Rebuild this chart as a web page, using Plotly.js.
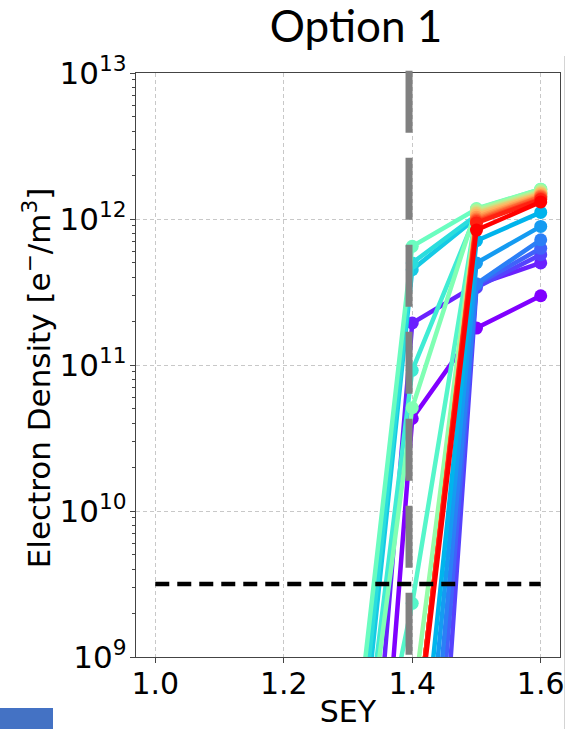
<!DOCTYPE html>
<html>
<head>
<meta charset="utf-8">
<script src="https://cdn.plot.ly/plotly-3.0.1.min.js"></script>
<style>
  html, body { margin: 0; padding: 0; background: #ffffff; }
  #chart { width: 567px; height: 729px; }
</style>
</head>
<body>
<div id="chart"></div>
<script>
// SEY sample points (x)
const sey = [1.3, 1.4, 1.5, 1.6];

// Electron density series (e-/m^3), one per simulation case, in colour order (rainbow map)
const s00 = [1.0e5, 4.3e10, 1.79e11, 2.98e11];
const s01 = [9.3e5, 1.94e11, 3.54e11, 5.0e11];
const s02 = [1.0e3, 1.6e5, 3.4e11, 5.7e11];
const s03 = [1.0e3, 1.3e6, 3.54e11, 6.3e11];
const s04 = [1.0e3, 5.4e6, 3.6e11, 7.2e11];
const s05 = [1.0e3, 1.6e7, 5.0e11, 8.9e11];
const s06 = [1.0e3, 4.0e7, 7.1e11, 1.11e12];
const s07 = [2.8e7, 4.5e11, 1.02e12, 1.42e12];
const s08 = [4.7e7, 5.0e11, 1.06e12, 1.47e12];
const s09 = [2.5e7, 9.2e10, 1.09e12, 1.50e12];
const s10 = [1.6e7, 2.33e9, 1.11e12, 1.52e12];
const s11 = [8.9e7, 6.5e11, 1.17e12, 1.60e12];
const s12 = [2.3e7, 5.1e10, 1.18e12, 1.60e12];
const s13 = [1.0e5, 4.3e8, 1.16e12, 1.58e12];
const s14 = [1.0e5, 1.7e8, 1.15e12, 1.56e12];
const s15 = [1.0e5, 1.7e8, 1.13e12, 1.54e12];
const s16 = [1.0e5, 1.7e8, 1.11e12, 1.52e12];
const s17 = [1.0e5, 1.75e8, 1.09e12, 1.50e12];
const s18 = [1.0e5, 1.75e8, 1.06e12, 1.48e12];
const s19 = [1.0e5, 1.75e8, 1.03e12, 1.45e12];
const s20 = [1.0e5, 1.8e8, 1.00e12, 1.43e12];
const s21 = [1.0e5, 1.8e8, 9.8e11, 1.41e12];
const s22 = [1.0e5, 1.8e8, 9.6e11, 1.38e12];
const s23 = [1.0e5, 1.8e8, 9.4e11, 1.36e12];
const s24 = [1.0e5, 1.6e8, 8.4e11, 1.31e12];

// threshold line and reference SEY
const thresholdX = [1.0, 1.6];
const thresholdY = [3.16e9, 3.16e9];
const seyRef = 1.395;

// tick labels
const yTickVals = [1e9, 1e10, 1e11, 1e12, 1e13];
const yTickText = ['10<sup>9</sup>', '10<sup>10</sup>', '10<sup>11</sup>', '10<sup>12</sup>', '10<sup>13</sup>'];
const xTickVals = [1.0, 1.2, 1.4, 1.6];
const xTickText = ['1.0', '1.2', '1.4', '1.6'];

const series = [s00,s01,s02,s03,s04,s05,s06,s07,s08,s09,s10,s11,s12,s13,s14,s15,s16,s17,s18,s19,s20,s21,s22,s23,s24];

// matplotlib "rainbow" colormap
function rainbow(t) {
  const clip = v => Math.max(0, Math.min(1, v));
  const r = clip(Math.abs(2 * t - 0.5));
  const g = clip(Math.sin(Math.PI * t));
  const b = clip(Math.cos(Math.PI * t / 2));
  const h = v => Math.round(v * 255);
  return 'rgb(' + h(r) + ',' + h(g) + ',' + h(b) + ')';
}

const FONT = 'DejaVu Sans, sans-serif';
const traces = series.map((ys, i) => {
  const c = rainbow(i / (series.length - 1));
  return {
    x: sey, y: ys, type: 'scatter', mode: 'lines+markers',
    line: { color: c, width: 4.5 },
    marker: { color: c, size: 13, line: { width: 0 } },
    hoverinfo: 'skip', showlegend: false
  };
});

traces.push({
  x: thresholdX, y: thresholdY, type: 'scatter', mode: 'lines',
  line: { color: '#000000', width: 4.5, dash: '14px,8px' },
  hoverinfo: 'skip', showlegend: false
});

const layout = {
  width: 567, height: 729,
  margin: { l: 136, r: 7, t: 73, b: 72, pad: 0 },
  paper_bgcolor: '#ffffff', plot_bgcolor: '#ffffff',
  showlegend: false,
  title: {
    text: 'Option 1',
    font: { family: 'Lato, sans-serif', size: 44, color: '#000000' },
    x: 356 / 567, xref: 'container', xanchor: 'center',
    y: 0.985, yref: 'container', yanchor: 'top'
  },
  xaxis: {
    type: 'linear', range: [0.97, 1.63],
    tickvals: xTickVals, ticktext: xTickText,
    ticks: 'outside', ticklen: 5, tickwidth: 1, tickcolor: '#444',
    showline: true, linecolor: '#444', linewidth: 1.2, mirror: true,
    showgrid: true, gridcolor: '#c8c8c8', gridwidth: 1, griddash: '4px,3px',
    zeroline: false,
    ticklabelstandoff: -5,
    tickfont: { family: FONT, size: 30, color: '#000' },
    title: { text: 'SEY', font: { family: FONT, size: 30, color: '#000' }, standoff: 11 }
  },
  yaxis: {
    type: 'log', range: [9, 13],
    tickvals: yTickVals, ticktext: yTickText,
    ticks: 'outside', ticklen: 5, tickwidth: 1, tickcolor: '#444',
    showline: true, linecolor: '#444', linewidth: 1.2, mirror: true,
    showgrid: true, gridcolor: '#c8c8c8', gridwidth: 1, griddash: '4px,3px',
    zeroline: false,
    ticklabelstandoff: -3,
    minor: { ticks: 'outside', ticklen: 3, tickwidth: 1, tickcolor: '#444', dtick: 'D1', showgrid: false },
    tickfont: { family: FONT, size: 31, color: '#000' }
  },
  annotations: [{
    text: 'Electron Density [e<sup>−</sup>/m<sup>3</sup>]',
    textangle: -90, showarrow: false,
    xref: 'paper', yref: 'paper', x: -0.2335, y: 0.479,
    xanchor: 'center', yanchor: 'middle',
    font: { family: FONT, size: 31, color: '#000' }
  }],
  shapes: [
    {
      type: 'line', xref: 'x', yref: 'paper', x0: seyRef, x1: seyRef, y0: 1.004, y1: -0.008,
      line: { color: '#808080', width: 7, dash: '62px,25px' }, layer: 'above'
    },
    {
      type: 'rect', xref: 'paper', yref: 'paper',
      x0: -136 / 424, x1: (53 - 136) / 424, y0: -(729 - 657) / 584, y1: -(708 - 657) / 584,
      fillcolor: '#4472c4', line: { width: 0 }, layer: 'above'
    },
    {
      type: 'line', xref: 'paper', yref: 'paper',
      x0: (564.5 - 136) / 424, x1: (564.5 - 136) / 424, y0: (657 - 56) / 584, y1: -(729 - 657) / 584,
      line: { color: '#d4d4d4', width: 1 }, layer: 'above'
    }
  ]
};

Plotly.newPlot('chart', traces, layout, { staticPlot: true, displayModeBar: false });
</script>
</body>
</html>
